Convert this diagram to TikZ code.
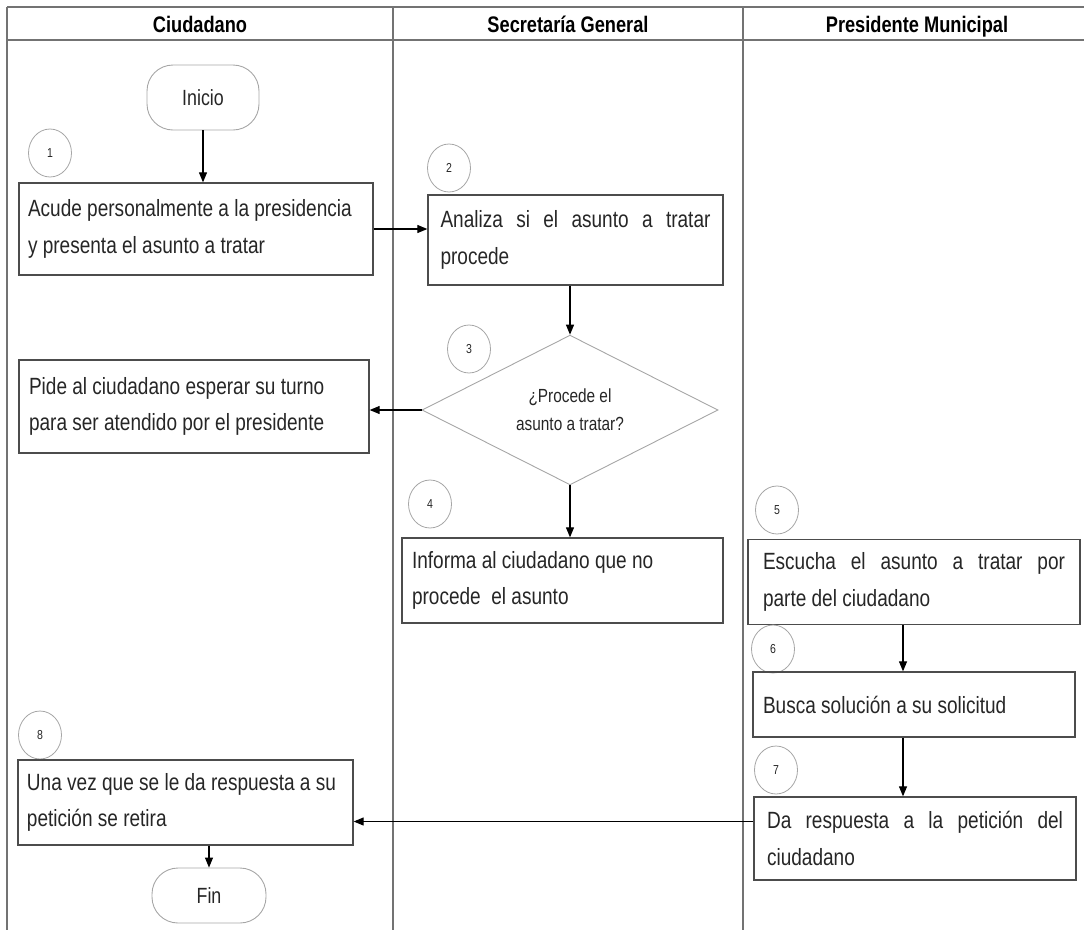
\documentclass[tikz,border=0pt]{standalone}
\usepackage{fontspec}
\setmainfont[FakeStretch=0.81]{Liberation Sans}
\usetikzlibrary{shapes.geometric,arrows.meta}

\begin{document}
\begin{tikzpicture}[x=1pt,y=-1pt,
        carril/.style={draw=black!55,line width=1.4pt},
        titulo/.style={anchor=base,font=\bfseries\fontsize{22.5}{26}\selectfont},
        paso/.style={draw=black!70,line width=1.3pt,inner sep=0pt,align=flush left,text=black!85,
          font=\fontsize{23.5}{36.5}\selectfont},
        pasoj/.style={paso,align=justify},
        limite/.style={draw=black!35,line width=0.9pt,rounded corners=26pt,inner sep=0pt,
          text=black!85,font=\fontsize{22}{26}\selectfont},
        numero/.style={ellipse,draw=black!35,line width=0.8pt,minimum width=43pt,
          minimum height=48pt,inner sep=0pt,text=black!85,font=\fontsize{13}{15}\selectfont},
        decision/.style={diamond,draw=black!35,line width=0.9pt,inner sep=0pt,align=center,
          text=black!85,font=\fontsize{19}{28}\selectfont},
        flecha/.style={-{Triangle[length=10pt,width=8pt]},line width=1.1pt}]
  \useasboundingbox (0,0) rectangle (1084,930);
  \draw[carril] (7,7) -- (1084,7) (7,40) -- (1084,40)
    (7,7) -- (7,930) (393,7) -- (393,930) (743,7) -- (743,930);
  \node[titulo] (c1) at (200,32) {Ciudadano};
  \node[titulo] (c2) at (568,32) {Secretaría General};
  \node[titulo] (c3) at (917,32) {Presidente Municipal};

  \node[limite,minimum width=112pt,minimum height=65pt] (ini) at (203,97.5) {Inicio};
  \node[numero] (n1) at (50,153) {1};
  \node[paso,text width=336pt,minimum width=354pt,minimum height=92pt] (b1) at (196,229)
    {Acude personalmente a la presidencia\\y presenta el asunto a tratar};
  \node[numero] (n2) at (449,168) {2};
  \node[pasoj,text width=270pt,minimum width=295pt,minimum height=90pt] (b2) at (575.5,240)
    {Analiza si el asunto a tratar\linebreak procede};
  \node[numero] (n3) at (469,349) {3};
  \node[decision,minimum width=296pt,minimum height=147pt] (dec) at (570,410)
    {¿Procede el\\asunto a tratar?};
  \node[paso,text width=330pt,minimum width=350pt,minimum height=93pt] (pide) at (194,406.5)
    {Pide al ciudadano esperar su turno\\para ser atendido por el presidente};
  \node[numero] (n4) at (430,504) {4};
  \node[paso,text width=301pt,minimum width=321pt,minimum height=85pt] (b4) at (562.5,580.5)
    {Informa al ciudadano que no\\procede\ \ el asunto};
  \node[numero] (n5) at (777,510) {5};
  \node[pasoj,text width=302pt,minimum width=332pt,minimum height=85pt] (b5) at (914,582)
    {Escucha el asunto a tratar por\linebreak parte del ciudadano};
  \node[numero] (n6) at (773,649) {6};
  \node[paso,text width=302pt,minimum width=322pt,minimum height=65pt] (b6) at (914,704.5)
    {Busca solución a su solicitud};
  \node[numero] (n7) at (776,770) {7};
  \node[pasoj,text width=296pt,minimum width=322pt,minimum height=83pt] (b7) at (915,838.5)
    {Da respuesta a la petición del\linebreak ciudadano};
  \node[numero] (n8) at (40,735) {8};
  \node[paso,text width=317pt,minimum width=335pt,minimum height=85pt] (b8) at (185.5,802.5)
    {Una vez que se le da respuesta a su\\petición se retira};
  \node[limite,minimum width=114pt,minimum height=55pt] (fin) at (209,895.5) {Fin};

  \draw[flecha] (ini.south) -- (ini.south |- b1.north);
  \draw[flecha] (b1.east) -- (b1.east -| b2.west);
  \draw[flecha] (b2.south -| dec.north) -- (dec.north);
  \draw[flecha] (dec.west) -- (dec.west -| pide.east);
  \draw[flecha] (dec.south) -- (dec.south |- b4.north);
  \draw[flecha] ([xshift=-11pt]b5.south) -- ([xshift=-11pt]b5.south |- b6.north);
  \draw[flecha] ([xshift=-11pt]b6.south) -- ([xshift=-11pt]b6.south |- b7.north);
  \draw[flecha] ([yshift=17pt]b7.west) -- ([yshift=17pt]b7.west -| b8.east);
  \draw[flecha] (b8.south -| fin.north) -- (fin.north);
\end{tikzpicture}
\end{document}
